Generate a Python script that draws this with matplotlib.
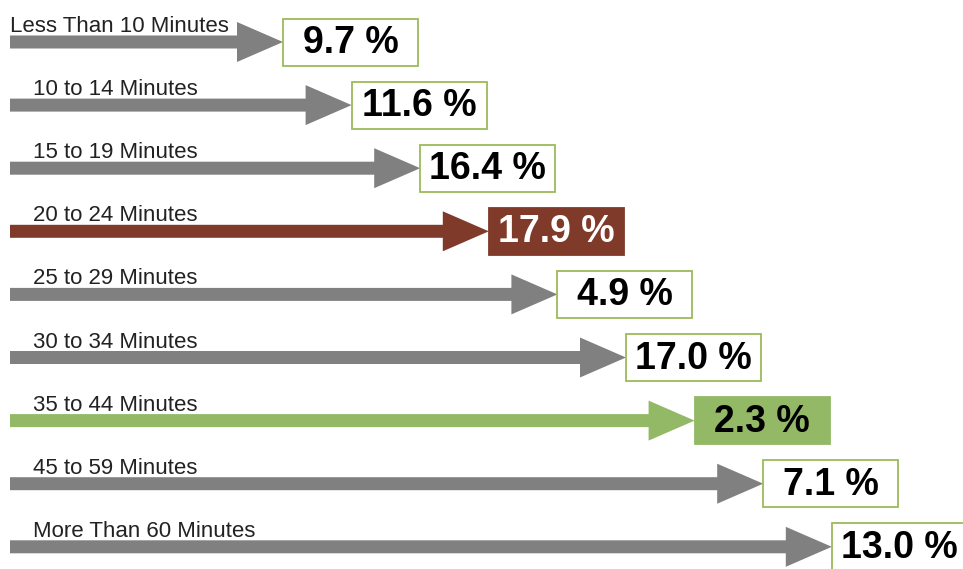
import matplotlib
matplotlib.use('Agg')
import matplotlib.pyplot as plt

# data
categories = ['Less Than 10 Minutes', '10 to 14 Minutes', '15 to 19 Minutes',
              '20 to 24 Minutes', '25 to 29 Minutes', '30 to 34 Minutes',
              '35 to 44 Minutes', '45 to 59 Minutes', 'More Than 60 Minutes']
values = [9.7, 11.6, 16.4, 17.9, 4.9, 17.0, 2.3, 7.1, 13.0]
highlight = ['none', 'none', 'none', 'max', 'none', 'none', 'min', 'none', 'none']

gray = '#808080'
brown = '#7F3A2A'
green = '#93B966'
edge_green = '#9BBB59'

fam = ['Liberation Sans', 'DejaVu Sans']

W, H = 963, 569
fig = plt.figure(figsize=(W / 100, H / 100), dpi=100)
ax = fig.add_axes([0, 0, 1, 1])
ax.set_xlim(0, W)
ax.set_ylim(H, 0)
ax.axis('off')

x0 = 10
step_y = 63.1
y_first = 42
tip_first = 283
step_x = 68.6
box_w, box_h = 135, 47

for i, (cat, val, hl) in enumerate(zip(categories, values, highlight)):
    y = y_first + i * step_y
    tip = tip_first + i * step_x
    col = {'max': brown, 'min': green}.get(hl, gray)
    ax.arrow(x0, y, tip - x0, 0, width=13, head_width=40, head_length=46,
             length_includes_head=True, color=col, lw=0)
    lx = x0 if i == 0 else 33
    ax.text(lx, y - 10, cat, fontsize=16, family=fam, color='#222222',
            va='baseline', ha='left')
    if hl == 'none':
        fc, ec, tc = 'white', edge_green, 'black'
    else:
        fc, ec, tc = col, col, 'white' if hl == 'max' else 'black'
    ax.add_patch(plt.Rectangle((tip, y - box_h / 2), box_w, box_h,
                               facecolor=fc, edgecolor=ec, lw=1.3))
    ax.text(tip + box_w / 2, y + 1, '%.1f %%' % val, fontsize=27,
            fontweight='bold', family=fam, color=tc, ha='center', va='center')

fig.savefig('out.png', dpi=100)
